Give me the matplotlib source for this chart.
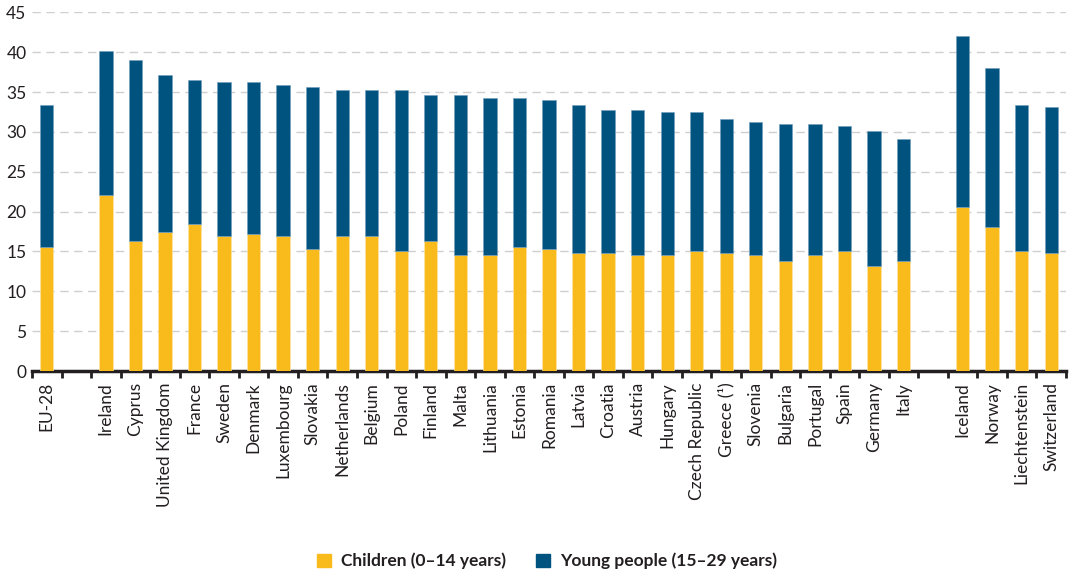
import numpy as np
import matplotlib.pyplot as plt
from matplotlib.patches import Patch

# categories (None = empty slot between groups)
countries = ['EU-28', None,
             'Ireland', 'Cyprus', 'United Kingdom', 'France', 'Sweden', 'Denmark',
             'Luxembourg', 'Slovakia', 'Netherlands', 'Belgium', 'Poland', 'Finland',
             'Malta', 'Lithuania', 'Estonia', 'Romania', 'Latvia', 'Croatia', 'Austria',
             'Hungary', 'Czech Republic', 'Greece (¹)', 'Slovenia', 'Bulgaria',
             'Portugal', 'Spain', 'Germany', 'Italy', None,
             'Iceland', 'Norway', 'Liechtenstein', 'Switzerland']

# share of children (0-14), %
children = [15.6, None,
            22.1, 16.3, 17.5, 18.4, 16.9, 17.2,
            16.9, 15.3, 16.9, 16.9, 15.1, 16.3,
            14.5, 14.5, 15.6, 15.3, 14.8, 14.8, 14.5,
            14.5, 15.1, 14.8, 14.5, 13.8,
            14.5, 15.1, 13.2, 13.8, None,
            20.6, 18.1, 15.1, 14.8]

# total share of children + young people (0-29), %
total = [33.4, None,
         40.2, 39.0, 37.1, 36.5, 36.2, 36.2,
         35.9, 35.6, 35.3, 35.3, 35.3, 34.6,
         34.6, 34.3, 34.3, 34.0, 33.4, 32.8, 32.8,
         32.5, 32.5, 31.6, 31.3, 31.0,
         31.0, 30.7, 30.1, 29.1, None,
         42.0, 38.0, 33.4, 33.1]

yellow = '#f9ba1c'
blue = '#00527f'

plt.rcParams['font.family'] = ['Lato', 'DejaVu Sans']

fig = plt.figure(figsize=(10.69, 5.71), dpi=100)
ax = fig.add_axes([32/1069, 1-371/571, (1066-32)/1069, (371-12.3)/571])

x = np.arange(len(countries))
idx = [i for i, c in enumerate(countries) if c is not None]
ch = np.array([children[i] for i in idx])
yp = np.array([total[i] - children[i] for i in idx])

ax.bar(idx, ch, width=0.45, color=yellow, edgecolor='#fde6a8', linewidth=0.4, zorder=3)
ax.bar(idx, yp, bottom=ch, width=0.45, color=blue, edgecolor='#6f9fbf', linewidth=0.4, zorder=3)

ax.set_xlim(-0.5, len(countries) - 0.5)
ax.set_ylim(0, 45)
ax.set_yticks(np.arange(0, 46, 5))
ax.yaxis.grid(True, color='#cfcfcf', linestyle=(0, (6, 4)), linewidth=1, zorder=0)
ax.set_axisbelow(True)

ax.set_xticks(x)
ax.set_xticklabels([c if c else '' for c in countries], rotation=90, fontsize=12.5, color='#231f20')
ax.set_xticks(np.arange(-0.5, len(countries)), minor=True)
ax.tick_params(axis='x', which='major', length=0, pad=8)
ax.tick_params(axis='x', which='minor', length=5, width=2, color='#231f20', direction='out')
ax.tick_params(axis='y', length=0, labelsize=12.5, pad=4, labelcolor='#231f20')

for s in ['left', 'right', 'top']:
    ax.spines[s].set_visible(False)
ax.spines['bottom'].set_linewidth(2.5)
ax.spines['bottom'].set_color('#231f20')

handles = [Patch(color=yellow, label='Children (0–14 years)'),
           Patch(color=blue, label='Young people (15–29 years)')]
fig.legend(handles=handles, loc='center', bbox_to_anchor=(547/1069, 1-561/571), ncol=2,
           frameon=False, prop={'weight': 'bold', 'size': 12.5}, labelcolor='#231f20',
           handlelength=0.8, handleheight=0.8, columnspacing=1.7, handletextpad=0.6)

fig.savefig('out.png', dpi=100)
